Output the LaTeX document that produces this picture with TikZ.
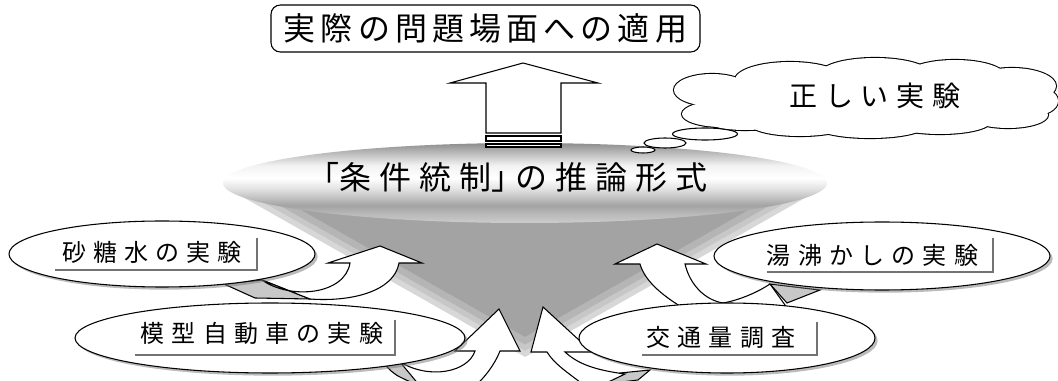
\documentclass[tikz,border=0pt]{standalone}
\usepackage{fontspec}
\usetikzlibrary{shapes.geometric, shadows}
\newfontfamily\titlefont[LetterSpace=16]{Noto Sans CJK JP}
\newfontfamily\discfont[LetterSpace=25]{Noto Sans CJK JP}
\newfontfamily\cloudfont[LetterSpace=28]{Noto Sans CJK JP}
\newfontfamily\labelfont[LetterSpace=30]{Noto Sans CJK JP}
\newcommand\halfpunct[1]{{\addfontfeature{RawFeature=+halt}#1}}
\definecolor{conegray}{RGB}{163,163,163}
\definecolor{sidegray}{RGB}{200,200,200}
\definecolor{shadowgray}{RGB}{120,120,120}
\definecolor{tabgray}{RGB}{115,115,115}
\pgfdeclareverticalshading{discshade}{100bp}{%
  color(0bp)=(black!20); color(25bp)=(black!20);
  color(31bp)=(black!28); color(36bp)=(black!36);
  color(46bp)=(black!12); color(53bp)=(white); color(61bp)=(black!5);
  color(70bp)=(black!30); color(75bp)=(black!45); color(100bp)=(black!45)}

\begin{document}
\begin{tikzpicture}[x=0.75pt, y=-0.75pt,
  every node/.style={inner sep=0pt},
  block/.style={draw=black, line width=0.8pt, fill=white, line join=miter},
  side/.style={draw=black, line width=0.8pt, fill=sidegray},
  disc/.style={ellipse, minimum width=453pt, minimum height=60pt, shading=discshade},
  bubble/.style={ellipse, draw=black, line width=0.8pt, fill=white,
    drop shadow={shadow xshift=2pt, shadow yshift=-2pt, fill=shadowgray}},
  puff/.style={ellipse, draw=black, line width=0.8pt, fill=white},
  tabline/.style={draw=tabgray, line width=1.5pt},
  labeltext/.style={font=\labelfont\fontsize{18pt}{20pt}\selectfont}]
\useasboundingbox (0,0) rectangle (1058,381);

% funnel under the disc
\fill[conegray] (227,188) -- (525,357) -- (826,186) -- cycle;
\foreach \w/\o in {26/0.2, 16/0.25, 8/0.3}
  \draw[white, opacity=\o, line width=\w pt, line join=round] (227,188) -- (525,357) -- (826,186);
\node[disc] (disc) at (525,183) {};
\node[font=\discfont\fontsize{24pt}{26pt}\selectfont] (rule) at (515.5,177)
  {\halfpunct{「}条件統制\halfpunct{」}\kern6pt の推論形式};

% big arrow to the top box
\draw[block] (486,133) -- (486,83) -- (450,83) -- (523,63) -- (598,83) -- (561,83) -- (561,133) -- cycle;
\draw[block] (486,136) rectangle (561,141);
\draw[block] (486,144) rectangle (561,147);
\node[draw, line width=0.8pt, rounded corners=7pt, fill=white,
  minimum width=321.75pt, minimum height=35.25pt,
  font=\titlefont\fontsize{24pt}{26pt}\selectfont] (apply) at (485.5,28.5) {実際の問題場面への適用};

% thought cloud
\node[puff, minimum width=18pt, minimum height=4.5pt] (puffc) at (643,150) {};
\node[puff, minimum width=31.5pt, minimum height=7.5pt] (puffb) at (665,143) {};
\node[puff, minimum width=48.75pt, minimum height=9pt] (puffa) at (705,134) {};
\foreach \cx/\cy/\rx/\ry in {712/90/38/16, 722/114/40/13, 790/80/55/18, 875/74/55/16,
    955/76/50/16, 1012/86/44/18, 1032/101/26/15, 1008/115/40/13, 940/122/50/12,
    870/126/55/12, 800/124/50/12, 745/120/40/10}
  \draw[line width=1.6pt, fill=white] (\cx,\cy) ellipse [x radius=\rx*0.75pt, y radius=\ry*0.75pt];
\foreach \cx/\cy/\rx/\ry in {712/90/38/16, 722/114/40/13, 790/80/55/18, 875/74/55/16,
    955/76/50/16, 1012/86/44/18, 1032/101/26/15, 1008/115/40/13, 940/122/50/12,
    870/126/55/12, 800/124/50/12, 745/120/40/10, 866/100/165/28}
  \fill[white] (\cx,\cy) ellipse [x radius=\rx*0.75pt, y radius=\ry*0.75pt];
\node[font=\cloudfont\fontsize{21pt}{23pt}\selectfont] (right) at (875,96) {正しい実験};

% curved arrows
\draw[side] (224,284) -- (255,298) -- (310,299) -- (262,280) -- cycle;
\draw[block] (262,280) .. controls (290,300) and (345,295) .. (350,263) -- (328,263) -- (380,246)
  -- (422,263) -- (399,263) .. controls (394,292) and (350,302) .. (310,299) -- cycle;

\draw[side] (770,284) -- (787,303) -- (820,290) -- cycle;
\draw[block] (640,264) -- (615,264) -- (657,244) -- (706,264) -- (685,264)
  .. controls (690,285) and (705,300) .. (723,303) .. controls (740,300) and (758,292) .. (770,284)
  -- (790,312) -- (690,312) .. controls (665,298) and (645,282) .. (640,264) -- cycle;

\draw[side] (386,366) .. controls (395,375) .. (415,384) -- (440,384) -- (400,362) -- cycle;
\draw[block] (475,351) -- (455,351) -- (499,309) -- (520,351) -- (500,351)
  .. controls (494,366) and (484,378) .. (475,386) -- (420,386) -- (400,362)
  .. controls (430,380) and (468,372) .. (475,351) -- cycle;

\draw[side] (620,373) -- (650,370) -- (638,380) -- (605,384) -- cycle;
\draw[block] (547,352) -- (531,352) -- (543,307) -- (592,352) -- (565,352)
  .. controls (578,364) and (595,370) .. (625,374) -- (600,386) -- (585,386)
  .. controls (570,374) and (555,365) .. (547,352) -- cycle;

% experiments
\node[bubble, minimum width=229.5pt, minimum height=49.5pt] (sugar) at (162,254) {};
\node[bubble, minimum width=292.5pt, minimum height=52.5pt] (model) at (270,338) {};
\node[bubble, minimum width=252pt, minimum height=51pt] (kettle) at (882,256) {};
\node[bubble, minimum width=222pt, minimum height=52.5pt] (traffic) at (727,338) {};

\node[labeltext] (sugartext) at (152,252.5) {砂糖水の実験};
\node[labeltext] (modeltext) at (262,333) {模型自動車の実験};
\node[labeltext] (kettletext) at (872.5,255) {湯沸かしの実験};
\node[labeltext] (traffictext) at (721,337) {交通量調査};

\draw[tabline] (257,238) |- (55,270);
\draw[tabline] (395,320) |- (135,355);
\draw[tabline] (993,238) |- (767,272);
\draw[tabline] (817,322) |- (642,355);
\end{tikzpicture}
\end{document}
